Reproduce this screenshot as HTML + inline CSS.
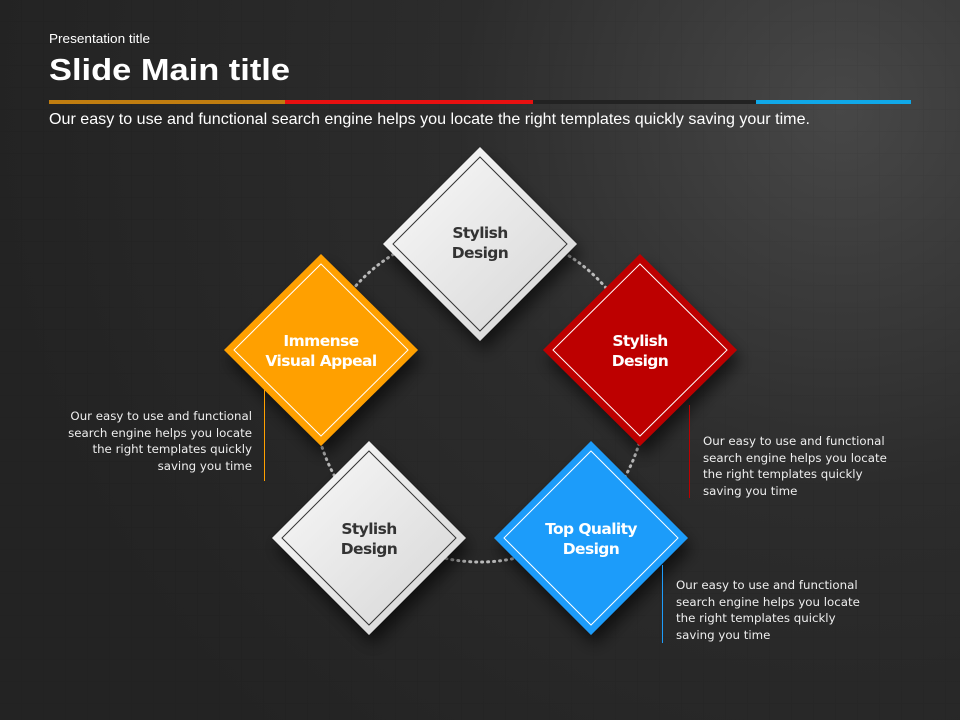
<!DOCTYPE html>
<html><head><meta charset="utf-8"><style>
html,body{margin:0;padding:0;width:960px;height:720px;overflow:hidden;background:#262626}
svg{display:block}
</style></head><body>
<svg width="960" height="720" viewBox="0 0 960 720" xmlns="http://www.w3.org/2000/svg">
<defs>
<radialGradient id="bg" cx="840" cy="110" r="850" gradientUnits="userSpaceOnUse">
<stop offset="0" stop-color="#474747"/><stop offset="0.45" stop-color="#2c2c2c"/><stop offset="1" stop-color="#232323"/>
</radialGradient>
<pattern id="grid" width="22" height="22" patternUnits="userSpaceOnUse">
<path d="M22 0V22H0" fill="none" stroke="#000" stroke-opacity="0.07" stroke-width="1"/>
</pattern>
<linearGradient id="wg" x1="0" y1="0" x2="1" y2="1">
<stop offset="0" stop-color="#fbfbfb"/><stop offset="1" stop-color="#d4d4d4"/>
</linearGradient>
<filter id="sh" x="-30%" y="-30%" width="160%" height="160%">
<feDropShadow dx="4" dy="10" stdDeviation="8" flood-color="#000" flood-opacity="0.6"/>
</filter>
</defs>
<rect width="960" height="720" fill="url(#bg)"/>
<rect width="960" height="720" fill="url(#grid)"/>

<text x="49" y="43" font-family="Liberation Sans, sans-serif" font-size="12.5" fill="#fff" textLength="101" lengthAdjust="spacingAndGlyphs">Presentation title</text>
<text x="49" y="80" font-family="Liberation Sans, sans-serif" font-size="31" font-weight="bold" fill="#fff" textLength="241" lengthAdjust="spacingAndGlyphs">Slide Main title</text>
<rect x="49" y="100" width="236" height="4" fill="#c07d10"/>
<rect x="285" y="100" width="248" height="4" fill="#e81010"/>
<rect x="533" y="100" width="223" height="4" fill="#222"/>
<rect x="756" y="100" width="155" height="4" fill="#10a8e8"/>
<text x="49" y="124" font-family="Liberation Sans, sans-serif" font-size="16" fill="#fff" textLength="761" lengthAdjust="spacingAndGlyphs">Our easy to use and functional search engine helps you locate the right templates quickly saving your time.</text>

<circle cx="480" cy="396" r="166" fill="none" stroke="#bbb" stroke-width="3" stroke-dasharray="1 5" stroke-linecap="round"/>

<g font-family="DejaVu Sans, sans-serif" font-weight="bold" font-size="15.5" text-anchor="middle" letter-spacing="-0.6">
<g filter="url(#sh)">
<polygon points="480,147 577,244 480,341 383,244" fill="url(#wg)"/>
<polygon points="321,254 418,350 321,446 224,350" fill="#ffa000"/>
<polygon points="640,254 737,350 640,446 543,350" fill="#bd0000"/>
<polygon points="369,441 466,538 369,635 272,538" fill="url(#wg)"/>
<polygon points="591,441 688,538 591,635 494,538" fill="#1e9cfa"/>
</g>
<polygon points="480,157 567,244 480,331 393,244" fill="none" stroke="#333" stroke-width="1"/>
<polygon points="321,264 408,350 321,436 234,350" fill="none" stroke="#fff" stroke-width="1"/>
<polygon points="640,264 727,350 640,436 553,350" fill="none" stroke="#fff" stroke-width="1"/>
<polygon points="369,451 456,538 369,625 282,538" fill="none" stroke="#333" stroke-width="1"/>
<polygon points="591,451 678,538 591,625 504,538" fill="none" stroke="#fff" stroke-width="1"/>
<text x="480" y="238" fill="#333">Stylish</text><text x="480" y="258" fill="#333">Design</text>
<text x="321" y="346" fill="#fff">Immense</text><text x="321" y="366" fill="#fff">Visual Appeal</text>
<text x="640" y="346" fill="#fff">Stylish</text><text x="640" y="366" fill="#fff">Design</text>
<text x="369" y="534" fill="#333">Stylish</text><text x="369" y="554" fill="#333">Design</text>
<text x="591" y="534" fill="#fff">Top Quality</text><text x="591" y="554" fill="#fff">Design</text>
</g>

<rect x="264" y="390" width="1" height="91" fill="#ffa000"/>
<rect x="689" y="405" width="1" height="93" fill="#bd0000"/>
<rect x="662" y="565" width="1" height="78" fill="#1e9cfa"/>

<g font-family="DejaVu Sans, sans-serif" font-size="11.8" fill="#eee">
<g text-anchor="end">
<text x="252" y="420">Our easy to use and functional</text>
<text x="252" y="437">search engine helps you locate</text>
<text x="252" y="453">the right templates quickly</text>
<text x="252" y="470">saving you time</text>
</g>
<text x="703" y="445">Our easy to use and functional</text>
<text x="703" y="462">search engine helps you locate</text>
<text x="703" y="478">the right templates quickly</text>
<text x="703" y="495">saving you time</text>
<text x="676" y="589">Our easy to use and functional</text>
<text x="676" y="606">search engine helps you locate</text>
<text x="676" y="622">the right templates quickly</text>
<text x="676" y="639">saving you time</text>
</g>
</svg>
</body></html>
